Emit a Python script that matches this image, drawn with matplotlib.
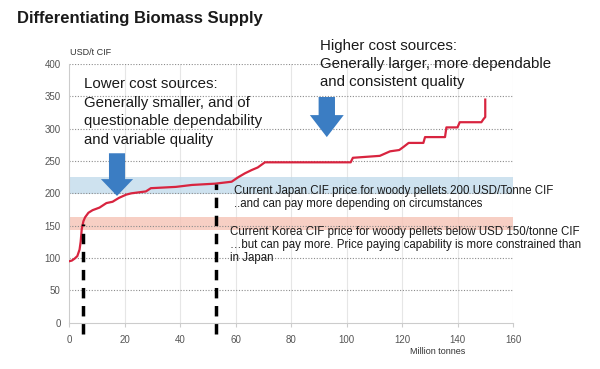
import numpy as np
import matplotlib.pyplot as plt
from matplotlib.patches import FancyArrow

plt.rcParams['font.family'] = ['Liberation Sans', 'DejaVu Sans']

# %% Data

supply = [0, 1, 2, 3, 3.8, 4.2, 4.6, 5.2, 5.8, 7, 8.5, 11, 13.5, 15.7, 18, 20.6,
          22.4, 27.7, 29.5, 38.5, 44.3, 52.7, 58.6, 61, 63.4, 65.8, 68, 70.6,
          101.5, 102.3, 112, 115.7, 119, 120.6, 122.4, 127.7, 128.3, 135.5,
          136, 140, 140.8, 148.6, 149.4, 150, 150]
cost = [95, 96, 99, 103, 113, 125, 145, 157, 163, 170, 174, 178, 185, 187, 193,
        198, 200, 203, 208, 210, 213, 215, 218, 225, 231, 236, 240, 248,
        248, 255, 258, 265, 267, 272, 278, 278, 287, 287, 302, 302, 310, 310,
        315, 318, 345]

japan_band = (199, 226)
korea_band = (143, 164)
cutoffs = [(5.1, 152), (53, 215)]

xticks = [0, 20, 40, 60, 80, 100, 120, 140, 160]
yticks = [0, 50, 100, 150, 200, 250, 300, 350, 400]

lower_txt = "Lower cost sources:\nGenerally smaller, and of\nquestionable dependability\nand variable quality"
higher_txt = "Higher cost sources:\nGenerally larger, more dependable\nand consistent quality"
japan_lines = ["Current Japan CIF price for woody pellets 200 USD/Tonne CIF",
               "..and can pay more depending on circumstances"]
korea_lines = ["Current Korea CIF price for woody pellets below USD 150/tonne CIF",
               "\u2026but can pay more. Price paying capability is more constrained than",
               "in Japan"]

# %% Plot

fig = plt.figure(figsize=(6, 3.69), dpi=100)
ax = fig.add_axes([0.115, 0.1255, 0.74, 0.701])
ax.set_xlim(0, 160)
ax.set_ylim(0, 400)

# grid
for x in xticks[1:]:
    ax.axvline(x, color='#e6e6e6', lw=0.8, zorder=0)
for y in yticks[1:]:
    ax.axhline(y, color='#8c8c8c', lw=0.8, ls=(0, (1, 1.5)), zorder=1)

# price bands
ax.axhspan(*japan_band, color='#c2dbeb', alpha=0.8, lw=0, zorder=0.5)
ax.axhspan(*korea_band, color='#f6c3b6', alpha=0.8, lw=0, zorder=0.5)

# supply curve
ax.plot(supply, cost, color='#d8243f', lw=1.6, zorder=4)

# dashed cut-offs
for xc, yc in cutoffs:
    ax.plot([xc, xc], [-17, yc], color='black', lw=2.5, ls=(0, (3, 2.2)),
            clip_on=False, zorder=5)

# arrows
ax.add_patch(FancyArrow(17.3, 262, 0, -66, width=5.8, head_width=11.6,
                        head_length=26, length_includes_head=True,
                        color='#3b7dc3', lw=0, zorder=6))
ax.add_patch(FancyArrow(92.9, 349, 0, -62, width=5.9, head_width=12.2,
                        head_length=34, length_includes_head=True,
                        color='#3b7dc3', lw=0, zorder=6, clip_on=False))

# annotations
ax.text(5.4, 380, lower_txt, fontsize=10.8, va='top', ha='left',
        color='#1a1a1a', linespacing=1.42, zorder=7)
ax.text(90.4, 439, higher_txt, fontsize=10.8, va='top', ha='left',
        color='#1a1a1a', linespacing=1.35, clip_on=False, zorder=7)
for line, yy in zip(japan_lines, [204, 183]):
    ax.text(59.3, yy, line, fontsize=8.3, va='center', ha='left',
            color='#1a1a1a', clip_on=False, zorder=7)
for line, yy in zip(korea_lines, [141, 120, 100]):
    ax.text(58, yy, line, fontsize=8.3, va='center', ha='left',
            color='#1a1a1a', clip_on=False, zorder=7)

# axes styling
ax.set_xticks(xticks)
ax.set_yticks(yticks)
ax.tick_params(axis='both', labelsize=7, colors='#555555', length=0, pad=6)
ax.tick_params(axis='x', length=3, color='#cccccc')
for s in ['top', 'right']:
    ax.spines[s].set_visible(False)
for s in ['left', 'bottom']:
    ax.spines[s].set_color('#cccccc')

ax.text(0.5, 418, "USD/t CIF", fontsize=6.5, color='#333333', ha='left',
        va='center', clip_on=False)
ax.text(133, -45, "Million tonnes", fontsize=6.5, color='#333333', ha='center',
        va='center', clip_on=False)

fig.text(17 / 600, 1 - 18 / 369, "Differentiating Biomass Supply",
         fontsize=12, fontweight='bold', color='#1a1a1a', va='center')

fig.savefig('out.png', dpi=100)
